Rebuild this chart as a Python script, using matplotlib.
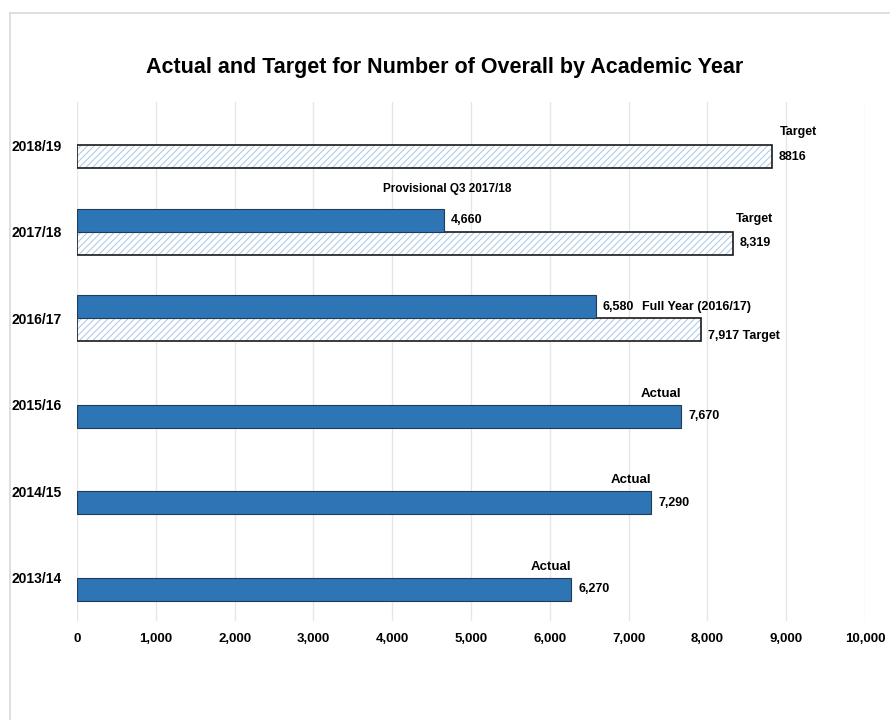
import matplotlib.pyplot as plt
from matplotlib.lines import Line2D

plt.rcParams['font.family'] = ['Liberation Sans', 'DejaVu Sans']
plt.rcParams['hatch.linewidth'] = 0.7

years = ['2013/14', '2014/15', '2015/16', '2016/17', '2017/18', '2018/19']
actual = [6270, 7290, 7670, 6580, 4660, None]
target = [None, None, None, 7917, 8319, 8816]
actual_text = ['6,270', '7,290', '7,670', '6,580', '4,660', None]
target_text = [None, None, None, '7,917 Target', '8,319', '8816']
actual_tag = ['Actual', 'Actual', 'Actual', 'Full Year (2016/17)', 'Provisional Q3 2017/18', None]
target_tag = [None, None, None, None, 'Target', 'Target']
xticks = [0, 1000, 2000, 3000, 4000, 5000, 6000, 7000, 8000, 9000, 10000]

blue = '#2E75B6'
hatch_blue = '#A7C7E7'
h = 0.266

fig = plt.figure(figsize=(8.9, 7.2), dpi=100)
ax = fig.add_axes([77 / 890, 1 - 621 / 720, 788 / 890, 519 / 720])

# chart area border (top and left visible)
fig.add_artist(Line2D([10 / 890, 1], [1 - 13 / 720, 1 - 13 / 720], color='#D9D9D9', lw=1.2))
fig.add_artist(Line2D([10 / 890, 10 / 890], [0, 1 - 13 / 720], color='#D9D9D9', lw=1.2))

for i, yr in enumerate(years):
    t = target[i]
    a = actual[i]
    if t is not None:
        yt = i - h / 2
        ax.barh(yt, t, height=h, color='white', edgecolor=hatch_blue, hatch='/////', lw=0, zorder=2)
        ax.barh(yt, t, height=h, fill=False, edgecolor='#1a1a1a', lw=1.2, zorder=3)
        if target_text[i]:
            dy = -6 if target_tag[i] is None else 0
            ax.annotate(target_text[i], xy=(t, yt), xytext=(7, dy), textcoords='offset pixels',
                        ha='left', va='center', fontsize=9, fontweight='bold')
        if target_tag[i]:
            ax.annotate(target_tag[i], xy=(t, yt + h / 2), xytext=(3 if i == 4 else 8, 13),
                        textcoords='offset pixels', ha='left', va='center',
                        fontsize=9, fontweight='bold')
    if a is not None:
        ya = i + h / 2 if t is not None else i - h / 2
        ax.barh(ya, a, height=h, color=blue, edgecolor='#1f3b57', lw=0.8, zorder=3)
        ax.annotate(actual_text[i], xy=(a, ya), xytext=(7, 0), textcoords='offset pixels',
                    ha='left', va='center', fontsize=9, fontweight='bold')
        if i == 3:
            ax.annotate(actual_tag[i], xy=(a, ya), xytext=(46, 0), textcoords='offset pixels',
                        ha='left', va='center', fontsize=9, fontweight='bold')
        elif i == 4:
            ax.annotate(actual_tag[i], xy=(a, ya + h / 2), xytext=(3, 20), textcoords='offset pixels',
                        ha='center', va='center', fontsize=8.5, fontweight='bold')
        else:
            ax.annotate(actual_tag[i], xy=(a, ya + h / 2), xytext=(-20, 11), textcoords='offset pixels',
                        ha='center', va='center', fontsize=9.5, fontweight='bold')

ax.set_xlim(0, 10000)
ax.set_ylim(-0.5, 5.5)
ax.set_xticks(xticks)
ax.set_xticklabels([f'{v:,}' for v in xticks], fontsize=9.5, fontweight='bold')
ax.set_yticks(range(len(years)))
ax.set_yticklabels(years, fontsize=10, fontweight='bold')
ax.tick_params(axis='both', length=0)
ax.tick_params(axis='x', pad=9)
ax.tick_params(axis='y', pad=11)
ax.grid(axis='x', color='#E6E6E6', lw=1, zorder=0)
ax.set_axisbelow(True)
for s in ax.spines.values():
    s.set_visible(False)

fig.text(0.5, 1 - 68 / 720, 'Actual and Target for Number of Overall by Academic Year',
         ha='center', va='center', fontsize=15.5, fontweight='bold')

fig.savefig('out.png', dpi=100)
